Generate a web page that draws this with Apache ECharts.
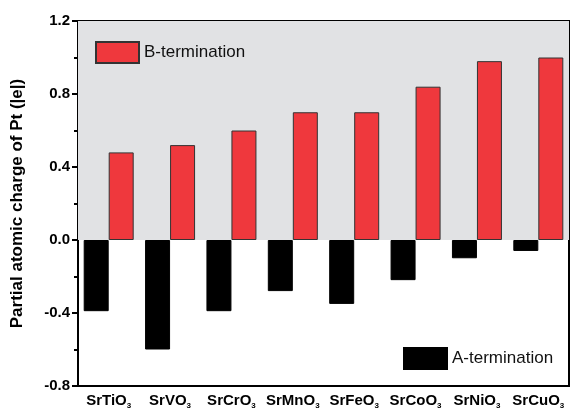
<!DOCTYPE html>
<html><head><meta charset="utf-8">
<script src="https://cdn.jsdelivr.net/npm/echarts@6/dist/echarts.min.js"></script>
<style>html,body{margin:0;padding:0;background:#fff}#c{width:576px;height:413px}</style>
</head><body><div id="c"></div>
<script>
const categories = ['SrTiO', 'SrVO', 'SrCrO', 'SrMnO', 'SrFeO', 'SrCoO', 'SrNiO', 'SrCuO'];
const bTermination = [0.48, 0.52, 0.60, 0.70, 0.70, 0.84, 0.98, 1.00];
const aTermination = [-0.39, -0.60, -0.39, -0.28, -0.35, -0.22, -0.10, -0.06];
const yTicks = [-0.8, -0.4, 0.0, 0.4, 0.8, 1.2];

const FONT = "'Liberation Sans', Arial, sans-serif";
const chart = echarts.init(document.getElementById('c'), null, {renderer: 'canvas'});
chart.setOption({
  animation: false,
  backgroundColor: '#fff',
  grid: {left: 78, right: 7, top: 21, bottom: 27, show: true, borderColor: '#000', borderWidth: 2, backgroundColor: 'transparent'},
  legend: [
    {data: [{name: 'B-termination', icon: 'rect'}], left: 90, top: 36, itemWidth: 43, itemHeight: 21, itemGap: 6,
     textStyle: {fontFamily: FONT, fontSize: 17, color: '#111'}},
    {data: [{name: 'A-termination', icon: 'rect'}], left: 398, top: 342, itemWidth: 43, itemHeight: 21,
     textStyle: {fontFamily: FONT, fontSize: 17, color: '#111'}}
  ],
  xAxis: {
    type: 'category', data: categories, boundaryGap: true,
    axisLine: {onZero: false, lineStyle: {color: '#000', width: 2}},
    axisTick: {inside: true, length: 5, interval: 0, lineStyle: {color: '#000', width: 2}},
    axisLabel: {interval: 0, margin: 6,
      formatter: v => '{a|' + v + '}{s|3}',
      rich: {a: {fontFamily: FONT, fontSize: 15, fontWeight: 'bold', color: '#000'},
             s: {fontFamily: FONT, fontSize: 8, fontWeight: 'bold', color: '#000', padding: [10, 0, 0, 0]}}},
    splitLine: {show: false}
  },
  yAxis: {
    type: 'value', min: -0.8, max: 1.2, interval: 0.4,
    name: 'Partial atomic charge of Pt (|e|)', nameLocation: 'middle', nameGap: 52,
    nameTextStyle: {fontFamily: FONT, fontSize: 17, fontWeight: 'bold', color: '#000'},
    axisLine: {show: true, lineStyle: {color: '#000', width: 2}},
    axisTick: {show: true, inside: false, length: 6, lineStyle: {color: '#000', width: 2}},
    minorTick: {show: true, splitNumber: 2, length: 4, lineStyle: {color: '#000', width: 2}},
    axisLabel: {fontFamily: FONT, fontSize: 15, fontWeight: 'bold', color: '#000', margin: 8,
      formatter: v => yTicks.some(t => Math.abs(t - v) < 1e-9) ? v.toFixed(1) : ''},
    splitLine: {show: false}
  },
  series: [
    {name: 'A-termination', type: 'bar', data: aTermination, barWidth: 25, barGap: '0%',
     itemStyle: {color: '#000', borderColor: '#000', borderWidth: 1},
     markArea: {silent: true, itemStyle: {color: '#e1e2e4'}, data: [[{yAxis: 0}, {yAxis: 1.2}]]}},
    {name: 'B-termination', type: 'bar', data: bTermination, barWidth: 25, barGap: '0%',
     itemStyle: {color: '#ef383d', borderColor: '#333', borderWidth: 1}}
  ]
});
</script></body></html>
